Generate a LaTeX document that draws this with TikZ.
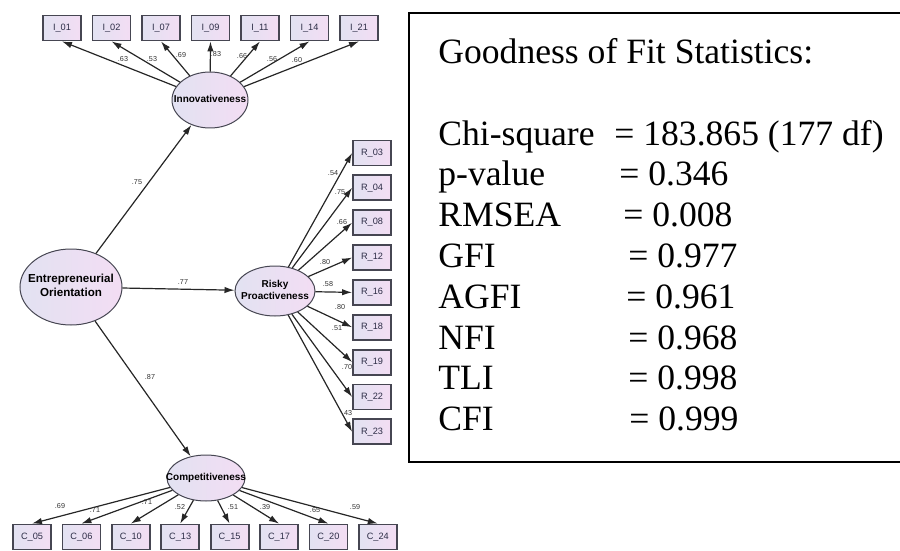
\documentclass[tikz,border=0pt]{standalone}
\usepackage{fontspec}
\setsansfont{Liberation Sans}
\newfontfamily\statfont{Liberation Serif}
\usepackage{tikz}
\usetikzlibrary{shapes.geometric, arrows.meta, positioning}
\definecolor{semlav}{RGB}{226,226,242}
\definecolor{sempink}{RGB}{243,221,243}
\definecolor{semedge}{RGB}{70,70,82}
\definecolor{semtext}{RGB}{45,45,70}
% zero-width label, so the ellipse size comes from minimum width/height only
\newcommand{\flatlabel}[1]{\makebox[0pt]{\begin{tabular}{@{}c@{}}#1\end{tabular}}}
\tikzset{
  latent/.style={ellipse, draw=semedge, line width=0.5pt, left color=semlav, right color=sempink,
    inner sep=0pt, text=black, font=\sffamily\bfseries\fontsize{5}{6}\selectfont},
  indicator/.style={rectangle, draw=semedge, line width=0.9pt, left color=semlav, right color=sempink,
    minimum width=19pt, minimum height=12.5pt, inner sep=0pt, text=semtext,
    font=\sffamily\fontsize{4.6}{5}\selectfont},
  loading/.style={draw=black!85, line width=0.6pt, -{Latex[length=5pt,width=3.2pt]}},
  coef/.style={inner sep=0pt, text=black!80, font=\sffamily\fontsize{3.6}{4}\selectfont},
}

\begin{document}
\begin{tikzpicture}[x=0.5pt, y=-0.5pt]
\useasboundingbox (0,0) rectangle (900,551);
% Latent factors
\node[latent, minimum width=51pt, minimum height=38pt, font=\sffamily\bfseries\fontsize{5.8}{6.8}\selectfont]
  (eo) at (71,287) {\flatlabel{Entrepreneurial\\Orientation}};
\node[latent, minimum width=38pt, minimum height=28pt] (innov) at (210,100) {\flatlabel{Innovativeness}};
\node[latent, minimum width=40pt, minimum height=25pt] (risky) at (275,291) {\flatlabel{Risky\\Proactiveness}};
\node[latent, minimum width=39pt, minimum height=23pt] (comp) at (206,478) {\flatlabel{Competitiveness}};
% Structural paths
\draw[loading] (eo) -- (innov);
\draw[loading] (eo) -- (risky);
\draw[loading] (eo) -- (comp);
\node[coef] (b1) at (137,182) {.75};
\node[coef] (b2) at (183,282) {.77};
\node[coef] (b3) at (150,377) {.87};
% Innovativeness items
\foreach \lbl/\val/\lx/\ly [count=\k from 0] in
  {01/.63/123/59, 02/.53/152/59, 07/.69/181/55, 09/.83/216/54, 11/.66/242/56, 14/.56/272/59, 21/.60/297/60}{
  \node[indicator] (i\lbl) at ({62+49.5*\k},28) {I\_\lbl};
  \draw[loading] (innov) -- (i\lbl.south);
  \node[coef] (li\lbl) at (\lx,\ly) {\val};
}
% Risky proactiveness items
\foreach \lbl/\val/\lx/\ly [count=\k from 0] in
  {03/.54/333/173, 04/.75/340/192, 08/.66/342/222, 12/.80/325/262, 16/.58/328/284,
   18/.80/340/307, 19/.51/337/328, 22/.70/347/367, 23/.43/347/413}{
  \node[indicator] (r\lbl) at (372,{153+34.85*\k}) {R\_\lbl};
  \draw[loading] (risky) -- (r\lbl.west);
  \node[coef] (lr\lbl) at (\lx,\ly) {\val};
}
% Competitiveness items
\foreach \lbl/\val/\lx/\ly [count=\k from 0] in
  {05/.69/60/506, 06/.71/95/510, 10/.71/147/502, 13/.52/180/507, 15/.51/233/507,
   17/.39/265/507, 20/.65/315/510, 24/.59/355/507}{
  \node[indicator] (c\lbl) at ({32+49.4*\k},537) {C\_\lbl};
  \draw[loading] (comp) -- (c\lbl.north);
  \node[coef] (lc\lbl) at (\lx,\ly) {\val};
}
% Fit statistics panel
\draw[line width=1pt] (900,13) -- (409,13) -- (409,462) -- (900,462);
\node[anchor=north west, inner sep=0pt, align=left, font=\statfont\fontsize{17.8}{20.4}\selectfont]
  (fitstats) at (438,38) {Goodness of Fit Statistics:\\[20.4pt]
  \makebox[88pt][l]{Chi-square}= 183.865 (177 df)\\
  \makebox[90.5pt][l]{p-value}= 0.346\\
  \makebox[92.5pt][l]{RMSEA}= 0.008\\
  \makebox[95pt][l]{GFI}= 0.977\\
  \makebox[94pt][l]{AGFI}= 0.961\\
  \makebox[95pt][l]{NFI}= 0.968\\
  \makebox[95pt][l]{TLI}= 0.998\\
  \makebox[95.5pt][l]{CFI}= 0.999};
\end{tikzpicture}
\end{document}
